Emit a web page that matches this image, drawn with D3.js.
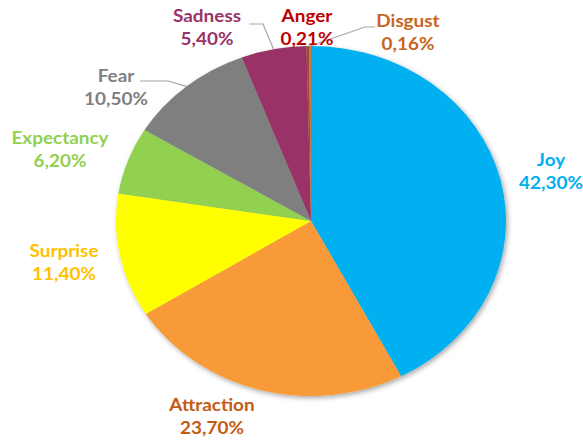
<!DOCTYPE html>
<html lang="en">
<head>
    <meta charset="UTF-8" />
    <title>Emotions pie chart</title>
    <script src="https://d3js.org/d3.v7.min.js"></script>
    <style>
        body { margin: 0; background: #ffffff; }
    </style>
</head>
<body>
    <script>
        // data, clockwise from 12 o'clock
        var categories = ["Joy", "Attraction", "Surprise", "Expectancy", "Fear", "Sadness", "Anger", "Disgust"];
        var values = [42.30, 23.70, 11.40, 6.20, 10.50, 5.40, 0.21, 0.16];

        var sliceColors = ["#00b0f0", "#f99a38", "#ffff00", "#92d050", "#7f7f7f", "#993366", "#a4482e", "#c8763a"];
        var labelColors = ["#00b0f0", "#c55a11", "#ffc000", "#92d050", "#7f7f7f", "#993366", "#c00000", "#c9641c"];

        var w = 583;
        var h = 443;
        var cx = 311, cy = 221;
        var ry = 175, rx = 195;   // the original chart is stretched sideways
        var sx = rx / ry;

        // label placement: text centre x, first baseline y, optional leader elbow
        var labelPos = {
            "Joy":        { x: 551, y: 166 },
            "Attraction": { x: 212, y: 411 },
            "Surprise":   { x: 64,  y: 257 },
            "Expectancy": { x: 60,  y: 144 },
            "Fear":       { x: 116, y: 82,  elbow: [168, 81], tail: [140, 81] },
            "Sadness":    { x: 207, y: 22,  elbow: [263, 24], tail: [249, 24] },
            "Anger":      { x: 307, y: 22 },
            "Disgust":    { x: 408, y: 27,  elbow: [365, 27], tail: [375, 27] }
        };

        var locale = d3.formatLocale({ decimal: ",", thousands: ".", grouping: [3], currency: ["", ""] });
        var fmt = locale.format(".2f");

        var data = categories.map(function (c, i) {
            return { name: c, value: values[i], color: sliceColors[i], labelColor: labelColors[i] };
        });

        var svg = d3.select("body")
            .append("svg")
            .attr("width", w)
            .attr("height", h);

        var defs = svg.append("defs");
        defs.append("filter")
            .attr("id", "shadow")
            .attr("x", "-10%").attr("y", "-10%")
            .attr("width", "120%").attr("height", "120%")
            .append("feDropShadow")
            .attr("dx", 1.5)
            .attr("dy", 2)
            .attr("stdDeviation", 2.5)
            .attr("flood-color", "#000")
            .attr("flood-opacity", 0.35);

        var pie = d3.pie()
            .sort(null)
            .value(function (d) { return d.value; });

        var arc = d3.arc()
            .innerRadius(0)
            .outerRadius(ry);

        var arcs = pie(data);

        var g = svg.append("g")
            .attr("transform", "translate(" + cx + "," + cy + ") scale(" + sx + ",1)");

        g.append("g")
            .attr("filter", "url(#shadow)")
            .selectAll("path")
            .data(arcs)
            .enter()
            .append("path")
            .attr("d", arc)
            .attr("fill", function (d) { return d.data.color; });

        // leader lines for the small slices
        var line = d3.line();
        svg.selectAll("path.leader")
            .data(arcs.filter(function (d) { return labelPos[d.data.name].elbow; }))
            .enter()
            .append("path")
            .attr("class", "leader")
            .attr("d", function (d) {
                var a = (d.startAngle + d.endAngle) / 2;
                var p = labelPos[d.data.name];
                var edge = [cx + rx * Math.sin(a), cy - ry * Math.cos(a)];
                return line([edge, p.elbow, p.tail]);
            })
            .attr("fill", "none")
            .attr("stroke", "#a6a6a6")
            .attr("stroke-width", 1.2);

        var labels = svg.selectAll("text.label")
            .data(arcs)
            .enter()
            .append("text")
            .attr("class", "label")
            .attr("transform", function (d) {
                var p = labelPos[d.data.name];
                return "translate(" + p.x + "," + p.y + ") scale(" + sx + ",1)";
            })
            .attr("text-anchor", "middle")
            .attr("font-family", "Lato, sans-serif")
            .attr("font-weight", "bold")
            .attr("font-size", "17px")
            .attr("fill", function (d) { return d.data.labelColor; });

        labels.append("tspan")
            .attr("x", 0)
            .attr("y", 0)
            .text(function (d) { return d.data.name; });

        labels.append("tspan")
            .attr("x", 0)
            .attr("y", 23)
            .text(function (d) { return fmt(d.data.value) + "%"; });
    </script>
</body>
</html>
